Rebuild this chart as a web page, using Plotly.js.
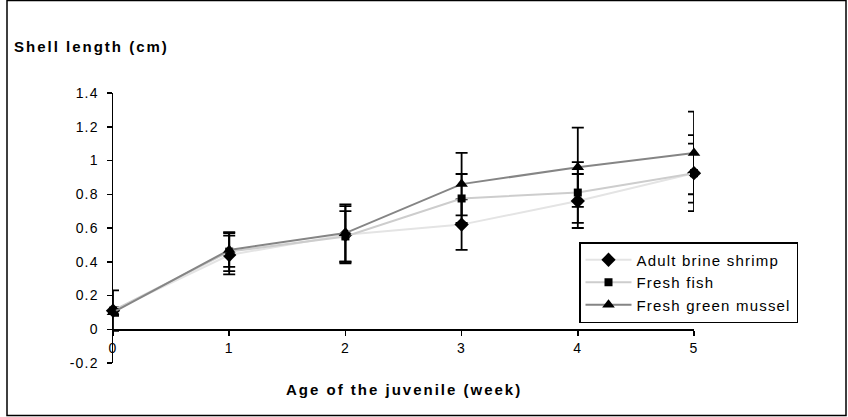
<!DOCTYPE html>
<html>
<head>
<meta charset="utf-8">
<script src="https://cdn.plot.ly/plotly-3.0.1.min.js"></script>
<style>
  html, body { margin: 0; padding: 0; background: #fff; }
  #chart { width: 848px; height: 417px; }
  svg text { letter-spacing: 1.2px; }
  svg text.gtitle, svg text.annotation-text { letter-spacing: 2px; }
</style>
</head>
<body>
<div id="chart"></div>
<script>
// ---- data ----
const weeks = [0, 1, 2, 3, 4, 5];
const xTickLabels = ['0', '1', '2', '3', '4', '5'];
const yTickVals = [-0.2, 0, 0.2, 0.4, 0.6, 0.8, 1, 1.2, 1.4];
const yTickLabels = ['-0.2', '0', '0.2', '0.4', '0.6', '0.8', '1', '1.2', '1.4'];

const seriesNames = ['Adult brine shrimp', 'Fresh fish', 'Fresh green mussel'];
const brineShrimp = [0.11, 0.44, 0.56, 0.62, 0.76, 0.925];
const brineShrimpErr = [0.02, 0.115, 0.17, 0.15, 0.16, 0.175];
const freshFish = [0.11, 0.46, 0.55, 0.775, 0.81, 0.925];
const freshFishErr = [0.12, 0.115, 0.15, 0.145, 0.18, 0.225];
const greenMussel = [0.10, 0.47, 0.57, 0.86, 0.96, 1.045];
const greenMusselErr = [0.02, 0.10, 0.17, 0.185, 0.235, 0.245];

const FONT = '"Liberation Sans", Arial, sans-serif';

function makeTrace(name, y, err, lineColor, symbol, size) {
  return {
    type: 'scatter',
    mode: 'lines+markers',
    name: name,
    x: weeks,
    y: y,
    cliponaxis: false,
    line: { color: lineColor, width: 2 },
    marker: { color: '#000', symbol: symbol, size: size },
    error_y: { type: 'data', array: err, visible: true, color: '#000', thickness: 1.8, width: 6 }
  };
}

const data = [
  makeTrace(seriesNames[0], brineShrimp, brineShrimpErr, '#e4e4e4', 'diamond', 11),
  makeTrace(seriesNames[1], freshFish, freshFishErr, '#cdcdcd', 'square', 8),
  makeTrace(seriesNames[2], greenMussel, greenMusselErr, '#858585', 'triangle-up', 11)
];

const yMin = -0.2, yMax = 1.4;
const L = 113, R = 154, T = 93, B = 54;
const PW = 848 - L - R, PH = 417 - T - B;

const layout = {
  width: 848,
  height: 417,
  paper_bgcolor: '#fff',
  plot_bgcolor: '#fff',
  margin: { l: L, r: R, t: T, b: B, pad: 0, autoexpand: false },
  font: { family: FONT, size: 14, color: '#000' },
  title: {
    text: '<b>Shell length (cm)</b>',
    xref: 'container', yref: 'container',
    x: 14 / 848, xanchor: 'left',
    y: 1 - 47 / 417, yanchor: 'middle',
    font: { family: FONT, size: 15, color: '#000' }
  },
  xaxis: {
    range: [0, 5],
    tickvals: weeks,
    ticktext: xTickLabels,
    anchor: 'free',
    position: (0 - yMin) / (yMax - yMin),
    showline: true, linecolor: '#000', linewidth: 1.5,
    ticks: 'outside', ticklen: 5, tickwidth: 1.5, tickcolor: '#000',
    ticklabelstandoff: 0,
    showgrid: false, zeroline: false,
    tickfont: { family: FONT, size: 14, color: '#000' }
  },
  yaxis: {
    range: [yMin, yMax],
    tickvals: yTickVals,
    ticktext: yTickLabels,
    showline: true, linecolor: '#000', linewidth: 1.5,
    ticks: 'outside', ticklen: 5, tickwidth: 1.5, tickcolor: '#000',
    ticklabelstandoff: 5,
    showgrid: false, zeroline: false,
    tickfont: { family: FONT, size: 14, color: '#000' }
  },
  showlegend: true,
  legend: {
    xref: 'paper', yref: 'paper',
    x: (579 - L) / PW, xanchor: 'left',
    y: (417 - B - 242) / PH, yanchor: 'top',
    bgcolor: '#fff',
    bordercolor: '#000', borderwidth: 1.5,
    font: { family: FONT, size: 15, color: '#000' },
    itemwidth: 46,
    tracegroupgap: 0
  },
  annotations: [{
    text: '<b>Age of the juvenile (week)</b>',
    xref: 'paper', yref: 'paper',
    x: 0.5, xanchor: 'center',
    y: (417 - B - 389) / PH, yanchor: 'middle',
    showarrow: false,
    font: { family: FONT, size: 15, color: '#000' }
  }],
  shapes: [{
    type: 'rect',
    xref: 'paper', yref: 'paper',
    x0: (7 - L) / PW, x1: (846 - L) / PW,
    y0: (417 - B - 415.5) / PH, y1: (417 - B - 0.5) / PH,
    line: { color: '#000', width: 1.5 },
    fillcolor: 'rgba(0,0,0,0)',
    layer: 'below'
  }]
};

Plotly.newPlot('chart', data, layout, { displayModeBar: false, staticPlot: true });
</script>
</body>
</html>
